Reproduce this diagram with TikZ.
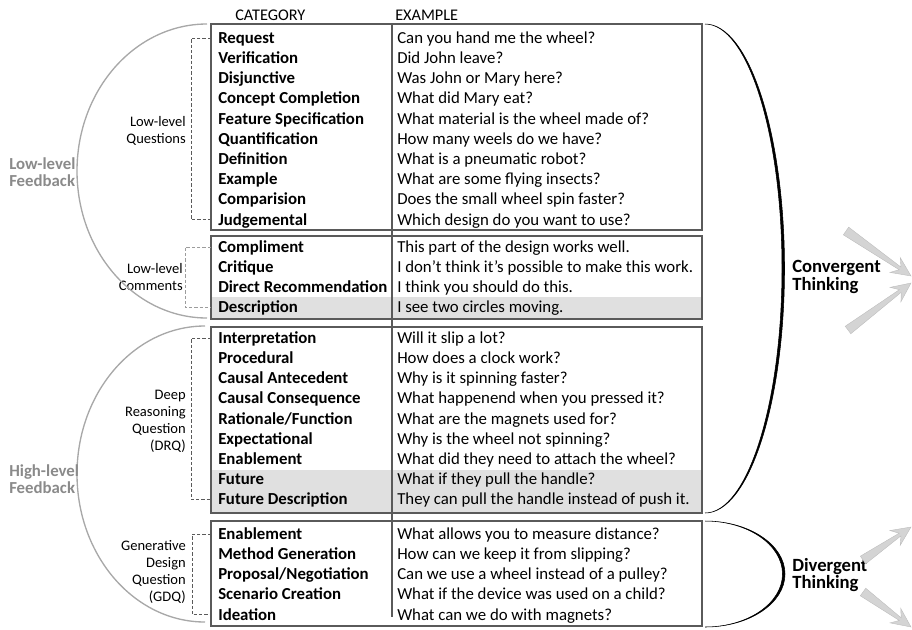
\documentclass[tikz,border=0pt]{standalone}
\usepackage{fontspec}
\setmainfont{Carlito}
\usepackage{tikz}
\usetikzlibrary{calc}
\definecolor{boxgray}{HTML}{5A5A5A}
\definecolor{rowshade}{HTML}{E0E0E0}
\definecolor{arcgray}{HTML}{A8A8A8}
\definecolor{labelgray}{HTML}{8A8A8A}
\definecolor{arrowgray}{HTML}{D4D4D4}
\definecolor{arrowline}{HTML}{BDBDBD}
\tikzset{
  cat/.style={anchor=west,inner xsep=5.25pt,inner ysep=0pt,text height=8pt,text depth=0pt,
    font=\fontsize{12.6}{15}\selectfont\bfseries},
  ex/.style={anchor=west,inner xsep=3.75pt,inner ysep=0pt,text height=8pt,text depth=0pt,
    font=\fontsize{12.6}{15}\selectfont},
  grp/.style={align=right,anchor=east,inner sep=0pt,font=\fontsize{10.9}{12.75}\selectfont},
  fb/.style={align=left,anchor=west,inner sep=0pt,text=labelgray,
    font=\fontsize{12.6}{12.75}\selectfont\bfseries},
  think/.style={align=left,anchor=west,inner sep=0pt,font=\fontsize{14}{12}\selectfont\bfseries},
  bracket/.style={boxgray,dash pattern=on 2.5pt off 1.5pt,line width=0.6pt},
  fbarc/.style={arcgray,line width=1pt},
}
\newcommand{\grpbox}[2]{
  \draw[boxgray,line width=1pt] (211,#1) rectangle (702,#2);% one group of rows
}
\newcommand{\fatarrow}[2]{
  \coordinate (n) at ($(#2)!10pt!(#1)$);
  \filldraw[fill=arrowgray,draw=arrowline,line width=0.3pt]
    ($(#1)!3.5pt!90:(#2)$) -- ($(n)!1.2pt!90:(#2)$) -- ($(#2)!16pt!-25:(#1)$) -- (#2)
    -- ($(#2)!16pt!25:(#1)$) -- ($(n)!1.2pt!-90:(#2)$) -- ($(#1)!3.5pt!-90:(#2)$) -- cycle;
}

\begin{document}
\begin{tikzpicture}[x=0.75pt,y=-0.75pt]
  \useasboundingbox (0,0) rectangle (912,629);

  % shaded rows
  \fill[rowshade] (211,297) rectangle (702,319);
  \fill[rowshade] (211,470) rectangle (702,513);

  \grpbox{24}{230}
  \grpbox{236}{319}
  \grpbox{327}{513}
  \grpbox{521}{626}
  \draw[boxgray,line width=1pt] (392,24) -- (392,617);% column divider

  \node[anchor=west,inner sep=0pt,font=\fontsize{12.2}{14}\selectfont] (hcat) at (235,15) {CATEGORY};
  \node[anchor=west,inner sep=0pt,font=\fontsize{12.2}{14}\selectfont] (hex) at (395,15) {EXAMPLE};

  \foreach [count=\i] \c/\e in {Request/{Can you hand me the wheel?},
      Verification/{Did John leave?}, Disjunctive/{Was John or Mary here?},
      {Concept Completion}/{What did Mary eat?},
      {Feature Specification}/{What material is the wheel made of?},
      Quantification/{How many weels do we have?}, Definition/{What is a pneumatic robot?},
      Example/{What are some flying insects?}, Comparision/{Does the small wheel spin faster?},
      Judgemental/{Which design do you want to use?}}{
    \node[cat] (lq\i) at (211,{38+20.2*(\i-1)}) {\c};
    \node[ex] (lqx\i) at (392,{38+20.2*(\i-1)}) {\e};
  }
  \foreach [count=\i] \c/\e in {Compliment/{This part of the design works well.},
      Critique/{I don’t think it’s possible to make this work.},
      {Direct Recommendation}/{I think you should do this.},
      Description/{I see two circles moving.}}{
    \node[cat] (lc\i) at (211,{247+20.2*(\i-1)}) {\c};
    \node[ex] (lcx\i) at (392,{247+20.2*(\i-1)}) {\e};
  }
  \foreach [count=\i] \c/\e in {Interpretation/{Will it slip a lot?},
      Procedural/{How does a clock work?}, {Causal Antecedent}/{Why is it spinning faster?},
      {Causal Consequence}/{What happenend when you pressed it?},
      {Rationale/Function}/{What are the magnets used for?},
      Expectational/{Why is the wheel not spinning?},
      Enablement/{What did they need to attach the wheel?},
      Future/{What if they pull the handle?},
      {Future Description}/{They can pull the handle instead of push it.}}{
    \node[cat] (drq\i) at (211,{338+20.2*(\i-1)}) {\c};
    \node[ex] (drqx\i) at (392,{338+20.2*(\i-1)}) {\e};
  }
  \foreach [count=\i] \c/\e in {Enablement/{What allows you to measure distance?},
      {Method Generation}/{How can we keep it from slipping?},
      {Proposal/Negotiation}/{Can we use a wheel instead of a pulley?},
      {Scenario Creation}/{What if the device was used on a child?},
      Ideation/{What can we do with magnets?}}{
    \node[cat] (gdq\i) at (211,{534+20.2*(\i-1)}) {\c};
    \node[ex] (gdqx\i) at (392,{534+20.2*(\i-1)}) {\e};
  }

  % dashed brackets and their labels
  \draw[bracket] (lq1.west) -- ++(-20,0) |- (lq10.west);
  \draw[bracket,boxgray!60] (lc1.west) -- ++(-26,0) |- (lc4.west);
  \draw[bracket] (drq1.west) -- ++(-20,0) |- (drq9.west);
  \draw[bracket] (gdq1.west) -- ++(-19,0) |- (gdq5.west);
  \node[grp] (lqlab) at (186,131) {Low-level\\Questions};
  \node[grp] (lclab) at (183,277) {Low-level\\Comments};
  \node[grp] (drqlab) at (186,421) {Deep\\Reasoning\\Question\\(DRQ)};
  \node[grp] (gdqlab) at (186,572) {Generative\\Design\\Question\\(GDQ)};

  % feedback arcs
  \draw[fbarc] (207,318) arc[start angle=90,end angle=270,x radius=130,y radius=147];
  \draw[fbarc] (205,622) arc[start angle=90,end angle=270,x radius=128,y radius=148];
  \node[fb] (low) at (9,172) {Low-level\\Feedback};
  \node[fb] (high) at (9,479) {High-level\\Feedback};

  % thinking braces
  \filldraw[line width=0.4pt] (705,24) arc[start angle=-90,end angle=90,x radius=79.5,y radius=244.5]
    arc[start angle=90,end angle=-90,x radius=77,y radius=244.5] -- cycle;
  \filldraw[line width=0.4pt] (705,521) arc[start angle=-90,end angle=90,x radius=80,y radius=53]
    arc[start angle=90,end angle=-90,x radius=77.5,y radius=53] -- cycle;
  \node[think] (conv) at (792,277) {Convergent\\Thinking};
  \node[think] (div) at (792,575) {Divergent\\Thinking};

  \coordinate (cv1) at (846,231);
  \coordinate (cv2) at (848,330);
  \coordinate (cvtip1) at (911,276);
  \coordinate (cvtip2) at (911,283);
  \coordinate (dv1) at (863,560);
  \coordinate (dv2) at (863,592);
  \coordinate (dvtip1) at (911,527);
  \coordinate (dvtip2) at (911,627);
  \fatarrow{cv1}{cvtip1}
  \fatarrow{cv2}{cvtip2}
  \fatarrow{dv1}{dvtip1}
  \fatarrow{dv2}{dvtip2}
\end{tikzpicture}
\end{document}
